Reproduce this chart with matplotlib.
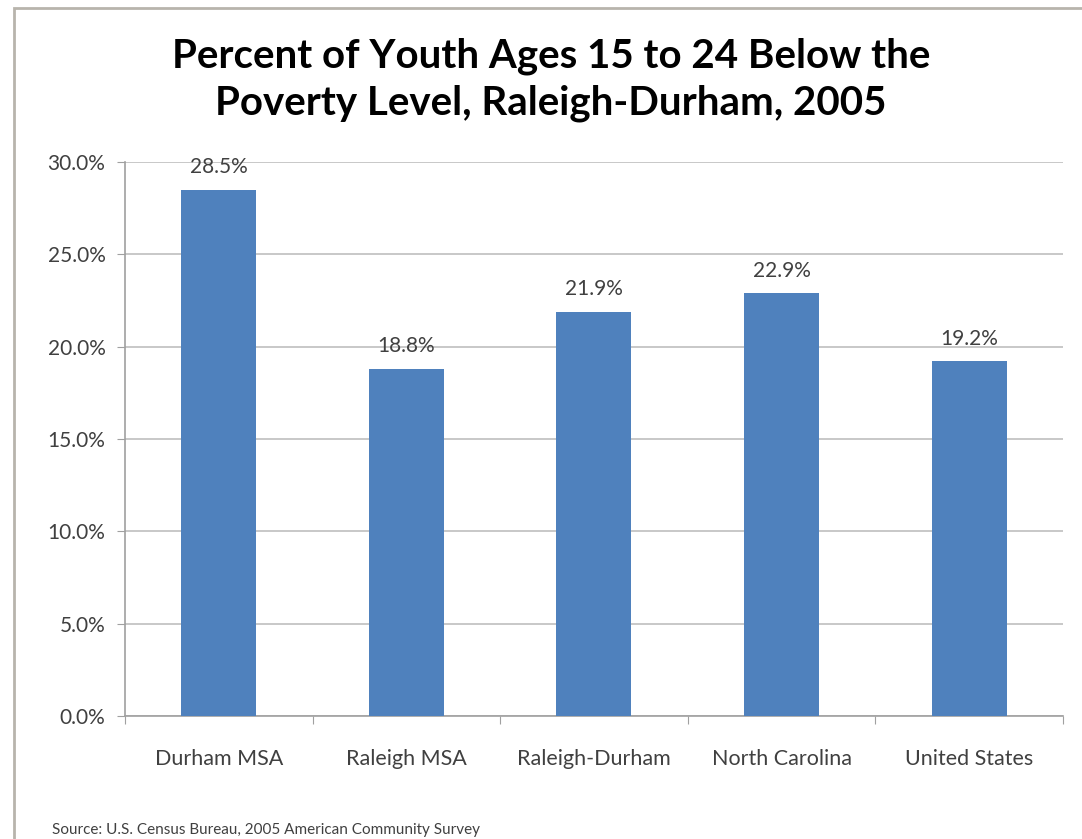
import matplotlib.pyplot as plt
from matplotlib.patches import Rectangle

# Data
regions = ["Durham MSA", "Raleigh MSA", "Raleigh-Durham", "North Carolina", "United States"]
pct_poverty = [28.5, 18.8, 21.9, 22.9, 19.2]
y_ticks = [0, 5, 10, 15, 20, 25, 30]

plt.rcParams['font.family'] = ['Lato', 'DejaVu Sans']

fig = plt.figure(figsize=(10.82, 8.39), dpi=100)
ax = fig.add_axes([0.1155, 0.1466, 0.8669, 0.6603])

x = range(len(regions))
ax.bar(x, pct_poverty, width=0.4, color='#4F81BD', zorder=3)

for i, v in zip(x, pct_poverty):
    ax.annotate(f"{v:.1f}%", (i, v), xytext=(0, 9), textcoords='offset points',
                ha='center', va='bottom', fontsize=15, color='#404040')

ax.set_xlim(-0.5, len(regions) - 0.5)
ax.set_ylim(0, 30)
ax.set_yticks(y_ticks)
ax.set_yticklabels([f"{t:.1f}%" for t in y_ticks], fontsize=15, color='#404040')
ax.yaxis.grid(True, color='#BFBFBF', linewidth=1.2, zorder=0)

# category labels centred, tick marks on the boundaries
ax.set_xticks([i - 0.5 for i in range(len(regions) + 1)])
ax.set_xticklabels([])
ax.set_xticks(list(x), minor=True)
ax.set_xticklabels(regions, minor=True, fontsize=15.5, color='#404040')
ax.tick_params(axis='x', which='minor', length=0, pad=24)
ax.tick_params(axis='x', which='major', length=6, color='#A0A0A0', direction='out')
ax.tick_params(axis='y', length=6, color='#A0A0A0', pad=8)

for s in ['top', 'right']:
    ax.spines[s].set_visible(False)
for s in ['left', 'bottom']:
    ax.spines[s].set_color('#A0A0A0')
    ax.spines[s].set_linewidth(1.2)

fig.text(0.509, 0.905, "Percent of Youth Ages 15 to 24 Below the\nPoverty Level, Raleigh-Durham, 2005",
         ha='center', va='center', fontsize=29, fontweight='bold', linespacing=1.3)
fig.text(0.048, 0.006, "Source: U.S. Census Bureau, 2005 American Community Survey",
         fontsize=11, color='#404040')

# outer frame
fig.patches.append(Rectangle((0.013, -0.02), 1.1, 1.011, transform=fig.transFigure,
                             fill=False, edgecolor='#B8B4AC', linewidth=2))

fig.savefig('out.png', dpi=100)
